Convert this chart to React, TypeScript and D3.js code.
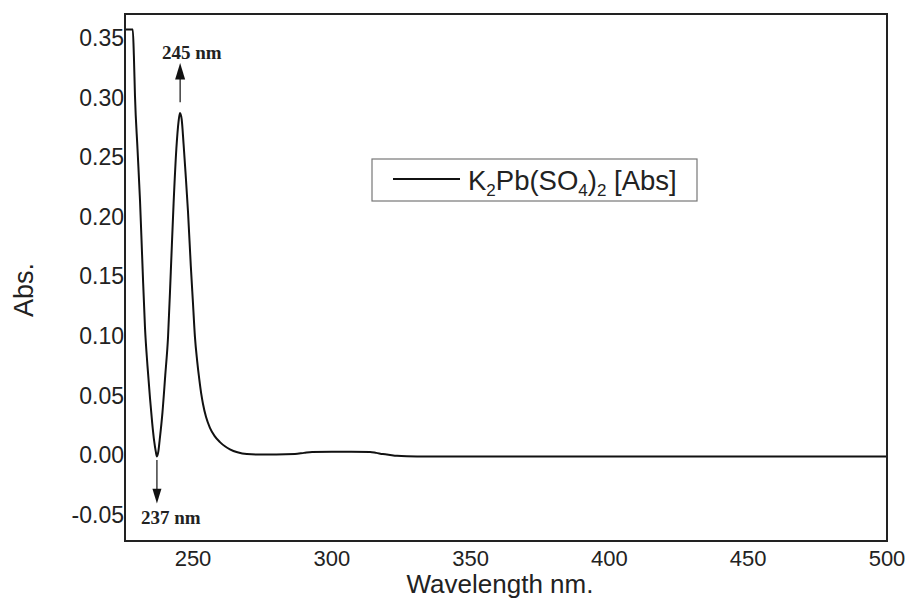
import React from "react";
import * as d3 from "d3";

// Wavelength (nm) and absorbance
const wavelength = [
  225.5, 228.3, 228.7, 229.1, 230.0, 230.9, 231.8, 232.7, 233.6, 234.5, 235.3, 236.0, 236.6, 237.0,
  237.5, 238.0, 239.0, 240.0, 241.0, 242.0, 243.0, 244.0, 244.8, 245.3, 245.9, 246.6, 247.3, 248.2,
  249.2, 250.0, 250.7, 251.5, 252.3, 253.0, 253.6, 254.7, 256.1, 257.8, 259.7, 261.5, 263.3, 266.0,
  269.4, 275.0, 280.0, 286.7, 290.0, 292.9, 300.0, 307.0, 313.8, 316.0, 318.4, 321.0, 323.5, 327.0,
  330.7, 350.0, 400.0, 450.0, 500.0,
];
const absorbance = [
  0.358, 0.358, 0.336, 0.302, 0.258, 0.215, 0.16, 0.108, 0.076, 0.049, 0.028, 0.013, 0.004, 0.0,
  0.004, 0.014, 0.037, 0.068, 0.1, 0.155, 0.212, 0.258, 0.281, 0.288, 0.283, 0.262, 0.238, 0.205,
  0.16, 0.128, 0.1, 0.08, 0.064, 0.052, 0.044, 0.033, 0.024, 0.017, 0.012, 0.0085, 0.006, 0.0035,
  0.002, 0.0016, 0.0016, 0.002, 0.003, 0.0038, 0.004, 0.004, 0.0038, 0.003, 0.002, 0.0012, 0.0005, 0.0001,
  0.0, 0.0, 0.0, 0.0, 0.0,
];

const xTicks = [250, 300, 350, 400, 450, 500];
const yTicks = [-0.05, 0.0, 0.05, 0.1, 0.15, 0.2, 0.25, 0.3, 0.35];

const peakNm = 245;
const valleyNm = 237;

const W = 910;
const H = 599;
const left = 125;
const right = 887;
const top = 14;
const bottom = 541;

export default function App() {
  const x = d3.scaleLinear().domain([225.5, 500]).range([left, right]);
  const y = d3.scaleLinear().domain([-0.0709, 0.371]).range([bottom, top]);

  const pts: [number, number][] = wavelength.map((w, i) => [w, absorbance[i]]);
  const line = d3
    .line<[number, number]>()
    .x((d) => x(d[0]))
    .y((d) => y(d[1]))
    .curve(d3.curveMonotoneX);

  const sans = "'Liberation Sans', Arial, sans-serif";
  const serif = "'Liberation Serif', 'Times New Roman', serif";

  const px = x(peakNm) + 1;
  const vx = x(valleyNm);

  return (
    <svg
      width={W}
      height={H}
      style={{ position: "absolute", left: 0, top: 0, background: "#fff" }}
    >
      <rect x={0} y={0} width={W} height={H} fill="#fff" />
      <defs>
        <clipPath id="plotclip">
          <rect x={left} y={top} width={right - left} height={bottom - top} />
        </clipPath>
      </defs>

      {/* curve */}
      <path
        d={line(pts) || ""}
        fill="none"
        stroke="#111"
        strokeWidth={2}
        strokeLinejoin="round"
        clipPath="url(#plotclip)"
      />

      {/* frame */}
      <rect
        x={left}
        y={top}
        width={right - left}
        height={bottom - top}
        fill="none"
        stroke="#222"
        strokeWidth={2}
      />

      {/* y tick labels */}
      {yTicks.map((t) => (
        <text
          key={"y" + t}
          x={left - 1}
          y={y(t)}
          dy="0.3em"
          textAnchor="end"
          fontFamily={sans}
          fontSize={23}
          fill="#222"
        >
          {d3.format(".2f")(t).replace("−", "-")}
        </text>
      ))}

      {/* x tick labels */}
      {xTicks.map((t) => (
        <text
          key={"x" + t}
          x={x(t)}
          y={566}
          textAnchor="middle"
          fontFamily={sans}
          fontSize={22}
          fill="#222"
        >
          {t}
        </text>
      ))}

      {/* axis titles */}
      <text
        x={(left + right) / 2 - 6}
        y={593}
        textAnchor="middle"
        fontFamily={sans}
        fontSize={26}
        fill="#222"
      >
        Wavelength nm.
      </text>
      <text
        transform={`translate(33,290) rotate(-90)`}
        textAnchor="middle"
        fontFamily={sans}
        fontSize={27}
        fill="#222"
      >
        Abs.
      </text>

      {/* legend */}
      <rect x={372} y={159} width={325} height={42} fill="#fff" stroke="#777" strokeWidth={1.2} />
      <line x1={393} x2={460} y1={179} y2={179} stroke="#111" strokeWidth={2} />
      <text x={468} y={190} fontFamily={sans} fontSize={27.5} fill="#222">
        K
        <tspan fontSize={17} dy={6}>2</tspan>
        <tspan dy={-6}>Pb(SO</tspan>
        <tspan fontSize={17} dy={6}>4</tspan>
        <tspan dy={-6}>)</tspan>
        <tspan fontSize={17} dy={6}>2</tspan>
        <tspan dy={-6}> [Abs]</tspan>
      </text>

      {/* 245 nm annotation */}
      <line x1={px} x2={px} y1={y(0.297)} y2={y(0.318)} stroke="#111" strokeWidth={1.2} />
      <path
        d={`M${px},${y(0.33)} L${px - 5},${y(0.316)} L${px + 5},${y(0.316)} Z`}
        fill="#111"
      />
      <text x={162} y={59} fontFamily={serif} fontWeight="bold" fontSize={19} fill="#222">
        245 nm
      </text>

      {/* 237 nm annotation */}
      <line x1={vx} x2={vx} y1={y(-0.003)} y2={y(-0.029)} stroke="#111" strokeWidth={1.2} />
      <path
        d={`M${vx},${y(-0.0395)} L${vx - 4.5},${y(-0.027)} L${vx + 4.5},${y(-0.027)} Z`}
        fill="#111"
      />
      <text x={141} y={524} fontFamily={serif} fontWeight="bold" fontSize={19} fill="#222">
        237 nm
      </text>
    </svg>
  );
}
